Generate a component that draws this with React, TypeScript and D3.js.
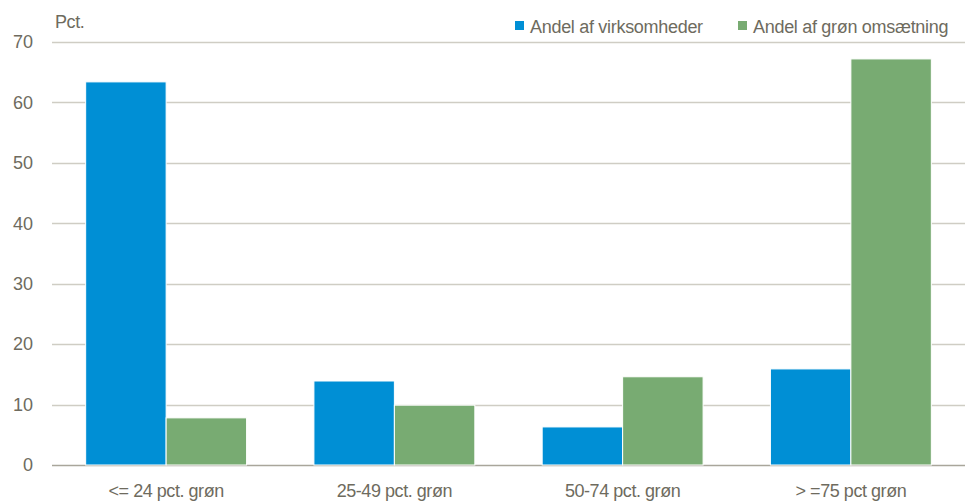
import React, { useRef, useEffect } from 'react';
import * as d3 from 'd3';

const categories = ['<= 24 pct. grøn', '25-49 pct. grøn', '50-74 pct. grøn', '> =75 pct grøn'];
const seriesNames = ['Andel af virksomheder', 'Andel af grøn omsætning'];
const andelVirksomheder = [63.4, 13.9, 6.3, 15.9];
const andelOmsaetning = [7.8, 9.9, 14.6, 67.2];
const yTicks = [0, 10, 20, 30, 40, 50, 60, 70];

const colors = ['#008FD5', '#78AB72'];
const textColor = '#6E6B5E';
const fontFamily = '"Liberation Sans Narrow", "Arial Narrow", "Liberation Sans", Arial, sans-serif';

const App: React.FC = () => {
  const svgRef = useRef<SVGSVGElement>(null);
  const width = 969;
  const height = 502;

  useEffect(() => {
    if (!svgRef.current) return;
    const svg = d3.select(svgRef.current);
    svg.selectAll('*').remove();

    const left = 52;
    const right = 965;
    const top = 42;
    const bottom = 465;

    const y = d3.scaleLinear().domain([0, 70]).range([bottom, top]);

    const x0 = d3
      .scaleBand()
      .domain(categories)
      .range([left, right])
      .paddingInner(0.295)
      .paddingOuter(0.1475);

    const x1 = d3.scaleBand().domain(seriesNames).range([0, x0.bandwidth()]).padding(0);

    // grid lines
    svg
      .append('g')
      .selectAll('line')
      .data(yTicks)
      .enter()
      .append('line')
      .attr('x1', left)
      .attr('x2', right)
      .attr('y1', (d) => Math.round(y(d)) + 0.5)
      .attr('y2', (d) => Math.round(y(d)) + 0.5)
      .attr('stroke', (d) => (d === 0 ? '#A9A69B' : '#CFCDC4'))
      .attr('stroke-width', 1.5);

    // tick labels
    svg
      .append('g')
      .selectAll('text')
      .data(yTicks)
      .enter()
      .append('text')
      .attr('x', 33)
      .attr('y', (d) => y(d))
      .attr('dy', '0.35em')
      .attr('text-anchor', 'end')
      .attr('fill', textColor)
      .attr('font-size', '18px')
      .attr('font-family', fontFamily)
      .text((d) => d);

    svg
      .append('text')
      .attr('x', 55)
      .attr('y', 28)
      .attr('fill', textColor)
      .attr('font-size', '18px')
      .attr('letter-spacing', '-0.4px')
      .attr('font-family', fontFamily)
      .text('Pct.');

    // bars
    const data = categories.map((c, i) => ({
      category: c,
      values: [andelVirksomheder[i], andelOmsaetning[i]],
    }));

    const groups = svg
      .append('g')
      .selectAll('g')
      .data(data)
      .enter()
      .append('g')
      .attr('transform', (d) => `translate(${x0(d.category)},0)`);

    groups
      .selectAll('rect')
      .data((d) => d.values.map((v, j) => ({ series: seriesNames[j], value: v, j })))
      .enter()
      .append('rect')
      .attr('x', (d) => x1(d.series)!)
      .attr('y', (d) => y(d.value))
      .attr('width', x1.bandwidth())
      .attr('height', (d) => y(0) - y(d.value))
      .attr('fill', (d) => colors[d.j])
      .attr('stroke', '#ffffff')
      .attr('stroke-width', 1);

    // category labels
    svg
      .append('g')
      .selectAll('text')
      .data(categories)
      .enter()
      .append('text')
      .attr('x', (d) => x0(d)! + x0.bandwidth() / 2)
      .attr('y', 497)
      .attr('text-anchor', 'middle')
      .attr('fill', textColor)
      .attr('font-size', '18px')
      .attr('letter-spacing', '-0.45px')
      .attr('font-family', fontFamily)
      .text((d) => d);

    // legend
    const legendX = [515, 738];
    const legend = svg
      .append('g')
      .selectAll('g')
      .data(seriesNames)
      .enter()
      .append('g')
      .attr('transform', (d, i) => `translate(${legendX[i]},0)`);

    legend
      .append('rect')
      .attr('x', 0)
      .attr('y', 21)
      .attr('width', 9)
      .attr('height', 9)
      .attr('fill', (d, i) => colors[i]);

    legend
      .append('text')
      .attr('x', 15)
      .attr('y', 33)
      .attr('fill', textColor)
      .attr('font-size', '18px')
      .attr('letter-spacing', '-0.3px')
      .attr('font-family', fontFamily)
      .text((d) => d);
  }, []);

  return (
    <div style={{ position: 'absolute', left: 0, top: 0, background: '#ffffff' }}>
      <svg ref={svgRef} width={width} height={height} style={{ display: 'block' }} />
    </div>
  );
};

export default App;
